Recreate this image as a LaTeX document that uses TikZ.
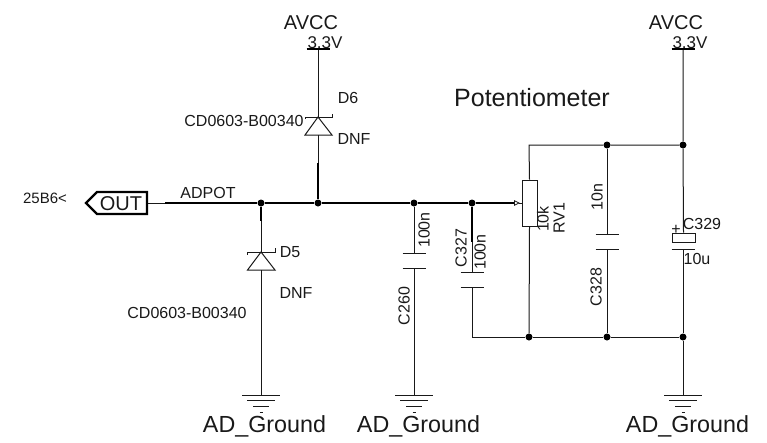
\documentclass[tikz,border=0pt]{standalone}
\usepackage{fontspec}
\setmainfont{Liberation Sans}
\tikzset{
	wire/.style={line width=1pt,black!90},
	bus/.style={line width=1.8pt,black},
	dot/.style={circle,fill=black,inner sep=0pt,minimum size=7pt},
	lbl/.style={inner sep=0pt,text=black!90,font=\fontsize{#1}{#1}\selectfont},
	lbl/.default=16
}
\newcommand{\gndbars}[1]{
	\draw[wire] ([xshift=-19pt]#1) -- ([xshift=19pt]#1);
	\draw[wire] ([xshift=-14pt,yshift=-5.5pt]#1) -- ([xshift=14pt,yshift=-5.5pt]#1);
	\draw[wire] ([xshift=-8pt,yshift=-11.5pt]#1) -- ([xshift=8pt,yshift=-11.5pt]#1);
	\draw[wire] ([xshift=-1.5pt,yshift=-17pt]#1) -- ([xshift=1.5pt,yshift=-17pt]#1);
}
\begin{document}
\begin{tikzpicture}[x=1pt,y=-1pt]
		\useasboundingbox (0,0) rectangle (767,442);
		% power and ground points
		\coordinate (vcc1) at (318,49);
		\coordinate (vcc2) at (683,49);
		\coordinate (gnd1) at (261,395);
		\coordinate (gnd2) at (414,395);
		\coordinate (gnd3) at (683,395);
		% junctions
		\node[dot] (j1) at (261,203) {};
		\node[dot] (j2) at (318,203) {};
		\node[dot] (j3) at (414,203) {};
		\node[dot] (j4) at (472,203) {};
		\node[dot] (j5) at (607,145) {};
		\node[dot] (j6) at (683,145) {};
		\node[dot] (j7) at (529,337) {};
		\node[dot] (j8) at (607,337) {};
		\node[dot] (j9) at (683,337) {};
		\coordinate (c1) at (529,145);
		\coordinate (c2) at (472,337);
		% connector output
		\node[lbl=20] (outlbl) at (121,204) {OUT};
		\draw[line width=2.2pt] (86,203) -- (97,192) -- (147,192) -- (147,214) -- (97,214) -- cycle;
		\coordinate (o1) at (148,203);
		\coordinate (o2) at (165,203);
		\coordinate (o3) at (514,203);
		\draw[wire] (o1) -- (o2);
		\draw[bus] (o2) -- (j1) -- (j2) -- (j3) -- (j4) -- (o3);
		% potentiometer
		\node[draw,wire,fill=white,minimum width=15pt,minimum height=46pt,inner sep=0pt] (rv1) at (529.5,203) {};
		\draw[wire,line width=0.8pt] (514.5,200.8) -- (519,203) -- (514.5,205.2) -- cycle;
		\draw[wire] (519,203) -- (rv1.west);
		\draw[wire] (rv1.north) -- (c1) -- (j5) -- (j6);
		\draw[wire] (rv1.south) -- (j7);
		\draw[wire] (c2) -- (j7) -- (j8) -- (j9);
		% D6
		\coordinate (d6a) at (318,117);
		\coordinate (d6b) at (318,135);
		\draw[wire] (vcc1) -- (d6a);
		\draw[wire] (d6a) -- (305,135) -- (332,135) -- cycle;
		\draw[wire] (305,119) -- (305,117) -- (332,117) -- (332,113.5);
		\draw[wire] (d6b) -- (318,165);
		\coordinate (d6c) at (318,163);
		\draw[bus] (d6c) -- (j2);
		\draw[line width=1.2pt] ([xshift=-11.5pt]vcc1) -- ([xshift=11.5pt]vcc1);
		% D5
		\coordinate (d5a) at (261,252);
		\coordinate (d5b) at (261,270);
		\coordinate (d5c) at (261,221);
		\draw[bus] (j1) -- (d5c);
		\draw[wire] (d5c) -- (d5a);
		\draw[wire] (d5a) -- (247.5,270) -- (275,270) -- cycle;
		\draw[wire] (247.5,254.5) -- (247.5,252) -- (275,252) -- (275,247.5);
		\draw[wire] (d5b) -- (gnd1);
		\gndbars{gnd1}
		% C260
		\coordinate (c260a) at (414,253);
		\coordinate (c260b) at (414,268);
		\draw[wire] (j3) -- (c260a);
		\draw[wire] ([xshift=-11.5pt]c260a) -- ([xshift=11.5pt]c260a);
		\draw[wire] ([xshift=-11.5pt]c260b) -- ([xshift=11.5pt]c260b);
		\draw[wire] (c260b) -- (gnd2);
		\gndbars{gnd2}
		% C327
		\coordinate (c327a) at (472,272);
		\coordinate (c327b) at (472,287);
		\coordinate (c327c) at (472,242);
		\draw[bus] (j4) -- (c327c);
		\draw[wire] (c327c) -- (c327a);
		\draw[wire] ([xshift=-11.5pt]c327a) -- ([xshift=11.5pt]c327a);
		\draw[wire] ([xshift=-11.5pt]c327b) -- ([xshift=11.5pt]c327b);
		\draw[wire] (c327b) -- (c2);
		% C328
		\coordinate (c328a) at (607,234);
		\coordinate (c328b) at (607,249);
		\draw[wire] (j5) -- (c328a);
		\draw[wire] ([xshift=-11.5pt]c328a) -- ([xshift=11.5pt]c328a);
		\draw[wire] ([xshift=-11.5pt]c328b) -- ([xshift=11.5pt]c328b);
		\draw[wire] (c328b) -- (j8);
		% C329
		\node[draw,wire,fill=white,minimum width=23pt,minimum height=9pt,inner sep=0pt] (c329) at (683.5,237.5) {};
		\coordinate (c329b) at (683,249);
		\draw[wire] (vcc2) -- (j6) -- (c329.north);
		\draw[wire] ([xshift=-11.5pt]c329b) -- ([xshift=11.5pt]c329b);
		\draw[wire] (c329b) -- (j9) -- (gnd3);
		\draw[line width=1.2pt] ([xshift=-11.5pt]vcc2) -- ([xshift=11.5pt]vcc2);
		\gndbars{gnd3}
		% texts
		\node[lbl=20] (tavcc1) at (311,23) {AVCC};
		\node[lbl=17] (tv1) at (325,43) {3.3V};
		\node[lbl=20] (tavcc2) at (676,23) {AVCC};
		\node[lbl=17] (tv2) at (690,43) {3.3V};
		\node[lbl=25] (tpot) at (532,98) {Potentiometer};
		\node[lbl] (td6) at (348,98) {D6};
		\node[lbl] (tdnf6) at (354,139) {DNF};
		\node[lbl] (tcd6) at (244,121) {CD0603-B00340};
		\node[lbl] (td5) at (290,252) {D5};
		\node[lbl] (tdnf5) at (296,293) {DNF};
		\node[lbl] (tcd5) at (187,313) {CD0603-B00340};
		\node[lbl=15] (tport) at (45,198) {25B6<};
		\node[lbl] (tadpot) at (208,193) {ADPOT};
		\node[lbl=23.3] (tg1) at (264.5,426) {AD\_Ground};
		\node[lbl=23.3] (tg2) at (418.5,426) {AD\_Ground};
		\node[lbl=23.3] (tg3) at (687.5,426) {AD\_Ground};
		\node[lbl,rotate=90] (t100a) at (424,230) {100n};
		\node[lbl,rotate=90] (tc260) at (404,306) {C260};
		\node[lbl,rotate=90] (tc327) at (461,248) {C327};
		\node[lbl,rotate=90] (t100b) at (480,252) {100n};
		\node[lbl,rotate=90] (t10k) at (543,219) {10k};
		\node[lbl,rotate=90] (trv1) at (559,218) {RV1};
		\node[lbl,rotate=90] (t10n) at (597,197) {10n};
		\node[lbl,rotate=90] (tc328) at (596,287) {C328};
		\node[lbl] (tc329) at (702,224) {C329};
		\node[lbl] (tplus) at (676,230) {+};
		\node[lbl] (t10u) at (697,259) {10u};
	\end{tikzpicture}
\end{document}
